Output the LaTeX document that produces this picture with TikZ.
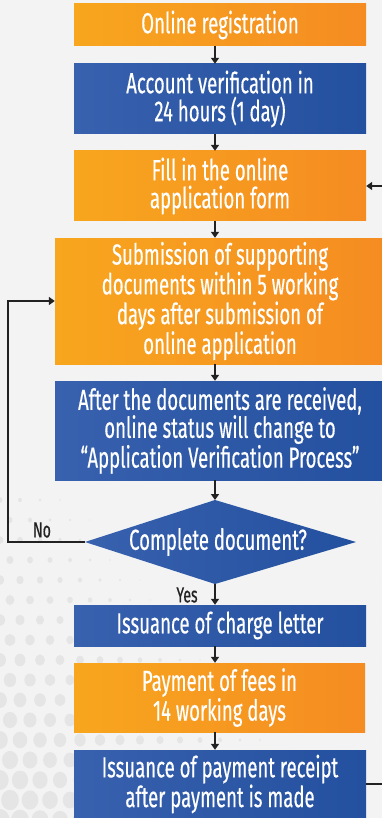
\documentclass[tikz,border=0pt]{standalone}
\usepackage{fontspec}
\setmainfont[FakeStretch=0.64,FakeBold=0.4]{Fira Sans}
\usetikzlibrary{arrows.meta}
\definecolor{bg}{HTML}{F3F3F3}
\definecolor{dot}{HTML}{E5E5E5}
\definecolor{orL}{HTML}{F8A61E}
\definecolor{orR}{HTML}{F58C22}
\definecolor{blL}{HTML}{3861AE}
\definecolor{blR}{HTML}{23509F}
\definecolor{ink}{HTML}{222222}
\tikzset{
  orbox/.style={rectangle, left color=orL, right color=orR, draw=none, inner sep=0pt, text=white, align=center, font=\fontsize{29}{28}\selectfont},
  blbox/.style={rectangle, left color=blL, right color=blR, draw=none, inner sep=0pt, text=white, align=center, font=\fontsize{29}{28}\selectfont},
  arr/.style={draw=ink, line width=2pt, -{Triangle[length=6pt,width=8pt]}},
  lbl/.style={text=ink, font=\fontsize{22}{22}\selectfont, inner sep=0pt}
}
\begin{document}
\begin{tikzpicture}[x=1pt,y=-1pt]
\clip (0,0) rectangle (382,818);
\fill[bg] (0,0) rectangle (382,818);
% faint background dots
\foreach \i in {0,...,19}{
  \foreach \j in {0,...,16}{
    \pgfmathsetmacro{\px}{\i*20+ mod(\j,2)*10}
    \pgfmathsetmacro{\py}{500+\j*20}
    \pgfmathsetmacro{\r}{max(0.01, 9.5 - \px/38 - (818-\py)/45)}
    \fill[dot] (\px,\py) ellipse ({\r} and {\r*1.15});
  }
}
\coordinate (ax) at (215,0);
\node[orbox, minimum width=292pt, minimum height=42pt] (b1) at (220,25) {Online registration};
\node[blbox, minimum width=292pt, minimum height=70pt] (b2) at (220,99) {Account verification in\\24 hours (1 day)};
\node[orbox, minimum width=292pt, minimum height=70pt] (b3) at (220,186) {Fill in the online\\application form};
\node[orbox, minimum width=330pt, minimum height=126pt] (b4) at (220,301) {Submission of supporting\\documents within 5 working\\days after submission of\\online application};
\node[blbox, minimum width=330pt, minimum height=99pt] (b5) at (220,430.5) {After the documents are received,\\online status will change to\\``Application Verification Process''};
\path[left color=blL, right color=blR] (215,500) coordinate (dt) -- (356,542) coordinate (dr) -- (215,584) coordinate (db) -- (85,542) coordinate (dl) -- cycle;
\node[text=white, font=\fontsize{29}{28}\selectfont, inner sep=0pt] (d) at (218,542) {Complete document?};
\node[blbox, minimum width=292pt, minimum height=41pt] (b6) at (220,625.5) {Issuance of charge letter};
\node[orbox, minimum width=291pt, minimum height=69pt] (b7) at (219.5,697.5) {Payment of fees in\\14 working days};
\node[blbox, minimum width=292pt, minimum height=68pt] (b8) at (220,784) {Issuance of payment receipt\\after payment is made};
\node[lbl] (no) at (42,530) {No};
\node[lbl] (yes) at (187,595) {Yes};
\draw[arr] (b1.south -| ax) -- (b2.north -| ax);
\draw[arr] (b2.south -| ax) -- (b3.north -| ax);
\draw[arr] (b3.south -| ax) -- (b4.north -| ax);
\draw[arr] (b4.south -| ax) -- (b5.north -| ax);
\draw[arr] (b5.south -| ax) -- (dt);
\draw[arr] (db) -- (b6.north -| ax);
\draw[arr] (b6.south -| ax) -- (b7.north -| ax);
\draw[arr] (b7.south -| ax) -- (b8.north -| ax);
\coordinate (lx) at (8,542);
\draw[arr] (dl) -- (lx) |- (b4.west);
\coordinate (rx) at (400,0);
\draw[arr] (b8.east) -- (b8.east -| rx) -- (b3.east -| rx) -- (b3.east);
\end{tikzpicture}
\end{document}
